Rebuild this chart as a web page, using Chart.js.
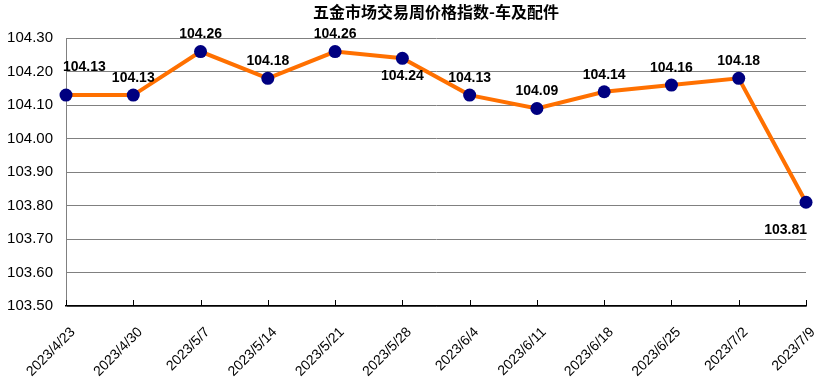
<!DOCTYPE html>
<html>
<head>
<meta charset="utf-8">
<script src="https://cdn.jsdelivr.net/npm/chart.js@4"></script>
<style>
  html, body { margin: 0; padding: 0; background: #fff; }
  #wrap { width: 815px; height: 387px; }
</style>
</head>
<body>
<div id="wrap"><canvas id="myChart"></canvas></div>
<script>
  var dates = ['2023/4/23', '2023/4/30', '2023/5/7', '2023/5/14', '2023/5/21', '2023/5/28',
               '2023/6/4', '2023/6/11', '2023/6/18', '2023/6/25', '2023/7/2', '2023/7/9'];
  var prices = [104.13, 104.13, 104.26, 104.18, 104.26, 104.24, 104.13, 104.09, 104.14, 104.16, 104.18, 103.81];
  var labelSide = ['up', 'up', 'up', 'up', 'up', 'down', 'up', 'up', 'up', 'up', 'up', 'down'];

  var FONT = '"Liberation Sans", Arial, sans-serif';

  // value labels + inner tick marks on the x axis
  var extras = {
    id: 'extras',
    afterDatasetsDraw: function (chart) {
      var c = chart.ctx;
      var x = chart.scales.x;
      var area = chart.chartArea;
      c.save();
      c.strokeStyle = '#000';
      c.lineWidth = 1;
      for (var i = 0; i < dates.length; i++) {
        var px = Math.round(x.getPixelForTick(i)) + 0.5;
        c.beginPath();
        c.moveTo(px, area.bottom);
        c.lineTo(px, area.bottom - 6);
        c.stroke();
      }
      var meta = chart.getDatasetMeta(0);
      c.font = 'bold 14px ' + FONT;
      c.fillStyle = '#000';
      c.textBaseline = 'middle';
      meta.data.forEach(function (pt, i) {
        var txt = prices[i].toFixed(2);
        var lx = pt.x, ly;
        c.textAlign = 'center';
        if (labelSide[i] === 'up') ly = pt.y - 17;
        else ly = pt.y + 18;
        if (i === 0) { c.textAlign = 'left'; lx = pt.x - 3; ly = pt.y - 28; }
        if (i === dates.length - 1) { c.textAlign = 'right'; lx = pt.x + 1; ly = pt.y + 28; }
        c.fillText(txt, lx, ly);
      });
      c.restore();
    }
  };

  var ctx = document.getElementById('myChart');

  new Chart(ctx, {
    type: 'line',
    data: {
      labels: dates,
      datasets: [{
        label: '价格指数',
        data: prices,
        borderColor: '#FF7000',
        borderWidth: 4,
        pointRadius: 6.5,
        pointHoverRadius: 6.5,
        pointBackgroundColor: '#000080',
        pointBorderColor: '#000080',
        pointBorderWidth: 0,
        tension: 0,
        clip: false
      }]
    },
    options: {
      responsive: true,
      maintainAspectRatio: false,
      animation: false,
      events: [],
      layout: { padding: { top: 2, right: 9, left: 0, bottom: 0 } },
      plugins: {
        legend: { display: false },
        tooltip: { enabled: false },
        title: {
          display: true,
          fullSize: false,
          text: '五金市场交易周价格指数-车及配件',
          color: '#000',
          font: { family: '"Noto Sans CJK SC", ' + FONT, size: 16, weight: 'bold' },
          padding: { top: 0, bottom: 17 }
        }
      },
      scales: {
        x: {
          offset: false,
          grid: { display: true, drawOnChartArea: false, drawTicks: false, color: '#000' },
          border: { color: '#000', width: 1.5 },
          ticks: {
            minRotation: 45,
            maxRotation: 45,
            padding: 18,
            labelOffset: 7,
            color: '#000',
            font: { family: FONT, size: 14 }
          },
          afterFit: function (s) { s.height = 81; s.paddingRight = 0; s.paddingLeft = 0; }
        },
        y: {
          min: 103.5,
          max: 104.3,
          grid: { color: '#808080', lineWidth: 1, drawTicks: false },
          border: { color: '#808080', width: 1 },
          ticks: {
            stepSize: 0.1,
            padding: 13,
            color: '#000',
            font: { family: FONT, size: 15 },
            callback: function (v) { return v.toFixed(2); }
          },
          afterFit: function (s) { s.width = 66; }
        }
      }
    },
    plugins: [extras]
  });
</script>
</body>
</html>
